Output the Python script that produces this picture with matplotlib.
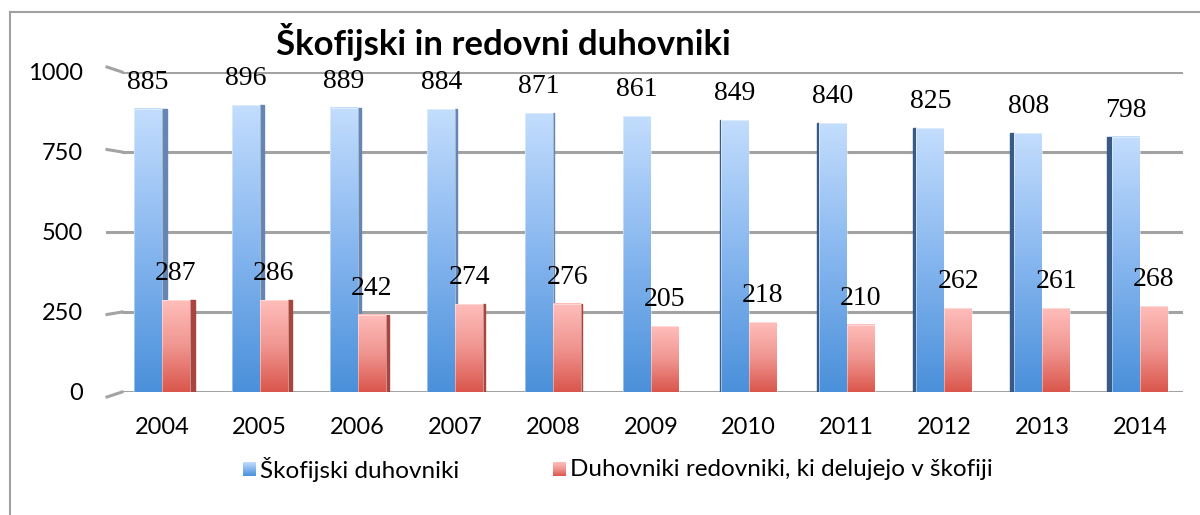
import numpy as np
import matplotlib
matplotlib.use("Agg")
import matplotlib.pyplot as plt
from matplotlib.patches import Rectangle
from matplotlib.colors import LinearSegmentedColormap
import matplotlib.transforms as mtransforms

years = ["2004", "2005", "2006", "2007", "2008", "2009", "2010", "2011", "2012", "2013", "2014"]
skofijski = [885, 896, 889, 884, 871, 861, 849, 840, 825, 808, 798]
redovniki = [287, 286, 242, 274, 276, 205, 218, 210, 262, 261, 268]
series_names = ["Škofijski duhovniki", "Duhovniki redovniki, ki delujejo v škofiji"]
title = "Škofijski in redovni duhovniki"
yticks = [0, 250, 500, 750, 1000]

W, H = 1200, 515
fig = plt.figure(figsize=(W / 100, H / 100), dpi=100)
fig.patch.set_facecolor("white")

ax = fig.add_axes([122 / W, 1 - 392 / H, 1061 / W, 320 / H])
ax.set_xlim(-0.409, 10.44)
ax.set_ylim(0, 1000)
for s in ax.spines.values():
    s.set_visible(False)
ax.patch.set_alpha(0)

blue_cmap = LinearSegmentedColormap.from_list("b", ["#4a90da", "#86b6ef", "#c3ddfd"])
red_cmap = LinearSegmentedColormap.from_list("r", ["#da564c", "#f09590", "#ffbebb"])
grad = np.linspace(0, 1, 256).reshape(-1, 1)

x = np.arange(len(years))
bw = 0.286
px = 1 / 97.8  # one pixel in data units along x

# gridlines with small perspective segments at left
for v in yticks:
    ax.axhline(v, color="#a3a3a3", lw=2.2, zorder=1)
    vl = v + 15.6 * (v - 500) / 500
    ax.plot([-15 / 1061, 0], [vl, v], color="#a3a3a3", lw=2.2, zorder=1,
            transform=mtransforms.blended_transform_factory(ax.transAxes, ax.transData),
            clip_on=False)

blue_bars = ax.bar(x - bw / 2, skofijski, width=bw, color="none", zorder=3)
red_bars = ax.bar(x + bw / 2, redovniki, width=bw, color="none", zorder=5)

def fill_gradient(bars, cmap, z):
    for p in bars.patches:
        x0, y0 = p.get_x(), p.get_y()
        w, h = p.get_width(), p.get_height()
        ax.imshow(grad, cmap=cmap, origin="lower", aspect="auto",
                  extent=[x0, x0 + w, y0, y0 + h], zorder=z,
                  interpolation="bilinear")
        ax.add_patch(Rectangle((x0, y0), w, h, fill=False, ec="#ffffff", lw=0.6,
                               alpha=0.5, zorder=z + 0.1))

# dark side faces (3D look)
for i, (xb, vb, vr) in enumerate(zip(x, skofijski, redovniki)):
    d = 1.0 * abs(i - 5) * px
    if d == 0:
        continue
    if i < 5:
        ax.add_patch(Rectangle((xb, 0), d, vb, color="#6585b3", zorder=2.9))
        ax.add_patch(Rectangle((xb + bw, 0), d, vr, color="#a8453f", zorder=4.9))
    else:
        ax.add_patch(Rectangle((xb - bw - d, 0), d, vb, color="#3a5a86", zorder=2.9))

fill_gradient(blue_bars, blue_cmap, 3)
fill_gradient(red_bars, red_cmap, 5)
ax.set_xlim(-0.409, 10.44)
ax.set_ylim(0, 1000)

# data labels
lab_font = dict(family=["Liberation Serif", "DejaVu Serif"], fontsize=20, color="black")
for bars, vals in ((blue_bars, skofijski), (red_bars, redovniki)):
    for p, v in zip(bars.patches, vals):
        ax.annotate(str(v), (p.get_x() + p.get_width() / 2, v), xytext=(0, 14.4),
                    textcoords="offset points", ha="center", va="baseline",
                    zorder=10, annotation_clip=False, **lab_font)

tick_font = ["Lato", "DejaVu Sans"]
ax.set_yticks(yticks)
ax.set_yticklabels([str(t) for t in yticks], family=tick_font, fontsize=17)
ax.set_xticks(x)
ax.set_xticklabels(years, family=tick_font, fontsize=17)
ax.tick_params(axis="y", length=0, pad=28)
ax.tick_params(axis="x", length=0, pad=18)

# title
fig.text(503 / W, 1 - 55 / H, title, ha="center", va="baseline",
         family=tick_font, fontweight="bold", fontsize=25)

# legend
leg_items = [(243, blue_cmap, series_names[0]), (553, red_cmap, series_names[1])]
for lx, cmap, name in leg_items:
    lax = fig.add_axes([lx / W, 1 - 476 / H, 13 / W, 14 / H])
    lax.imshow(grad, cmap=cmap, origin="lower", aspect="auto")
    lax.set_axis_off()
    fig.text((lx + 17) / W, 1 - 470 / H, name, ha="left", va="center",
             family=tick_font, fontsize=17.5)

# chart border (left and top visible)
fig.add_artist(plt.Line2D([9.5 / W, 9.5 / W], [0, 1 - 12 / H], color="#a0a0a0", lw=1.5))
fig.add_artist(plt.Line2D([9.5 / W, 1], [1 - 12 / H, 1 - 12 / H], color="#a0a0a0", lw=1.5))

fig.savefig("out.png", dpi=100, facecolor="white")
